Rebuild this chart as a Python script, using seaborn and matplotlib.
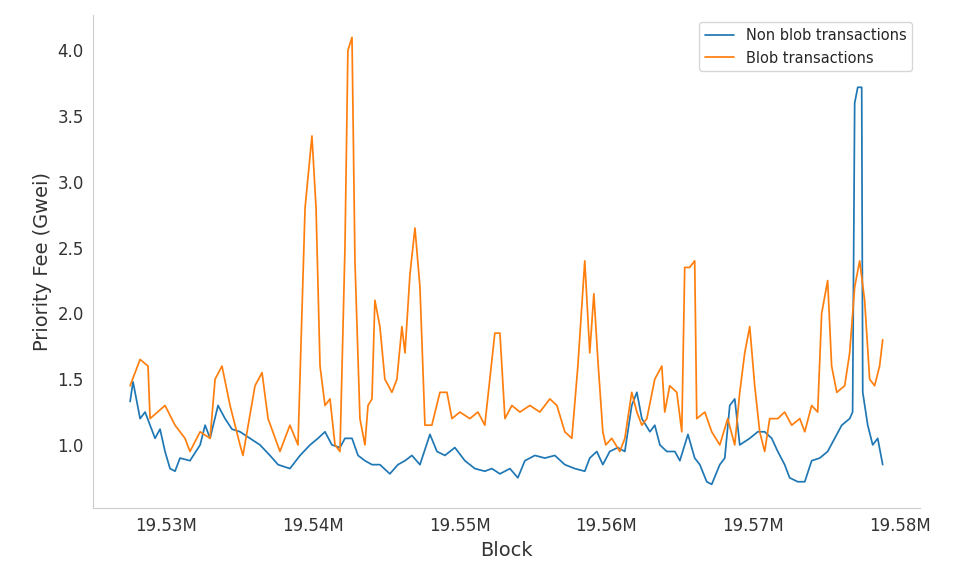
import numpy as np
import pandas as pd
import matplotlib
matplotlib.use("Agg")
import matplotlib.pyplot as plt
import matplotlib.ticker as mticker
import seaborn as sns

# block numbers in thousands, fee in Gwei
nonblob_kblock = [19527.55, 19527.75, 19528.23, 19528.57, 19528.91, 19529.25, 19529.59, 19529.93, 19530.27, 19530.61,
                  19530.95, 19531.63, 19532.32, 19532.66, 19533.00, 19533.54, 19534.02, 19534.49, 19535.04, 19535.72,
                  19536.40, 19537.08, 19537.63, 19538.44, 19539.13, 19539.81, 19540.35, 19540.83, 19541.30, 19541.85,
                  19542.19, 19542.67, 19543.08, 19543.55, 19544.03, 19544.57, 19545.25, 19545.80, 19546.28, 19546.75,
                  19547.30, 19547.98, 19548.46, 19549.00, 19549.68, 19550.36, 19551.04, 19551.72, 19552.20, 19552.75,
                  19553.43, 19553.97, 19554.45, 19555.13, 19555.81, 19556.49, 19557.17, 19557.85, 19558.53, 19558.87,
                  19559.35, 19559.76, 19560.23, 19560.78, 19561.26, 19561.73, 19562.08, 19562.42, 19562.97, 19563.30,
                  19563.65, 19564.12, 19564.67, 19565.01, 19565.56, 19566.02, 19566.37, 19566.84, 19567.18, 19567.73,
                  19568.07, 19568.41, 19568.75, 19569.09, 19569.77, 19570.32, 19570.79, 19571.27, 19571.68, 19572.15,
                  19572.49, 19573.04, 19573.52, 19573.99, 19574.54, 19575.08, 19575.56, 19576.04, 19576.58, 19576.78,
                  19576.92, 19577.13, 19577.40, 19577.47, 19577.81, 19578.15, 19578.49, 19578.83]
nonblob_fee = [1.33, 1.48, 1.20, 1.25, 1.15, 1.05, 1.12, 0.95, 0.82, 0.80,
               0.90, 0.88, 1.00, 1.15, 1.05, 1.30, 1.20, 1.12, 1.10, 1.05,
               1.00, 0.92, 0.85, 0.82, 0.92, 1.00, 1.05, 1.10, 1.00, 0.98,
               1.05, 1.05, 0.92, 0.88, 0.85, 0.85, 0.78, 0.85, 0.88, 0.92,
               0.85, 1.08, 0.95, 0.92, 0.98, 0.88, 0.82, 0.80, 0.82, 0.78,
               0.82, 0.75, 0.88, 0.92, 0.90, 0.92, 0.85, 0.82, 0.80, 0.90,
               0.95, 0.85, 0.95, 0.98, 0.95, 1.30, 1.40, 1.20, 1.10, 1.15,
               1.00, 0.95, 0.95, 0.88, 1.08, 0.90, 0.85, 0.72, 0.70, 0.85,
               0.90, 1.30, 1.35, 1.00, 1.05, 1.10, 1.10, 1.05, 0.95, 0.85,
               0.75, 0.72, 0.72, 0.88, 0.90, 0.95, 1.05, 1.15, 1.20, 1.25,
               3.60, 3.72, 3.72, 1.40, 1.15, 1.00, 1.05, 0.85]

blob_kblock = [19527.55, 19528.23, 19528.77, 19528.91, 19529.93, 19530.61, 19531.29, 19531.63, 19532.32, 19533.00,
               19533.34, 19533.81, 19534.36, 19535.04, 19535.24, 19536.06, 19536.54, 19536.95, 19537.76, 19538.44,
               19538.99, 19539.47, 19539.94, 19540.22, 19540.49, 19540.83, 19541.17, 19541.51, 19541.85, 19542.19,
               19542.39, 19542.67, 19542.87, 19543.21, 19543.55, 19543.76, 19544.03, 19544.23, 19544.57, 19544.91,
               19545.39, 19545.73, 19546.07, 19546.28, 19546.62, 19546.96, 19547.30, 19547.64, 19548.11, 19548.66,
               19549.14, 19549.48, 19550.02, 19550.70, 19551.25, 19551.72, 19552.06, 19552.40, 19552.75, 19553.09,
               19553.56, 19554.11, 19554.79, 19555.47, 19556.15, 19556.63, 19557.17, 19557.65, 19558.06, 19558.53,
               19558.87, 19559.15, 19559.42, 19559.76, 19559.96, 19560.37, 19560.92, 19561.26, 19561.73, 19562.08,
               19562.42, 19562.76, 19563.30, 19563.78, 19563.98, 19564.32, 19564.80, 19565.14, 19565.34, 19565.68,
               19566.02, 19566.16, 19566.71, 19567.18, 19567.73, 19568.27, 19568.75, 19569.09, 19569.43, 19569.77,
               19570.11, 19570.45, 19570.79, 19571.13, 19571.68, 19572.15, 19572.63, 19573.18, 19573.52, 19573.99,
               19574.40, 19574.67, 19575.08, 19575.35, 19575.70, 19576.24, 19576.58, 19576.92, 19577.26, 19577.60,
               19577.94, 19578.28, 19578.62, 19578.83]
blob_fee = [1.45, 1.65, 1.60, 1.20, 1.30, 1.15, 1.05, 0.95, 1.10, 1.05,
            1.50, 1.60, 1.30, 1.00, 0.92, 1.45, 1.55, 1.20, 0.95, 1.15,
            1.00, 2.80, 3.35, 2.80, 1.60, 1.30, 1.35, 1.00, 0.95, 2.50,
            4.00, 4.10, 2.40, 1.20, 1.00, 1.30, 1.35, 2.10, 1.90, 1.50,
            1.40, 1.50, 1.90, 1.70, 2.30, 2.65, 2.20, 1.15, 1.15, 1.40,
            1.40, 1.20, 1.25, 1.20, 1.25, 1.15, 1.50, 1.85, 1.85, 1.20,
            1.30, 1.25, 1.30, 1.25, 1.35, 1.30, 1.10, 1.05, 1.60, 2.40,
            1.70, 2.15, 1.65, 1.10, 1.00, 1.05, 0.95, 1.05, 1.40, 1.25,
            1.15, 1.20, 1.50, 1.60, 1.25, 1.45, 1.40, 1.10, 2.35, 2.35,
            2.40, 1.20, 1.25, 1.10, 1.00, 1.20, 1.00, 1.40, 1.70, 1.90,
            1.45, 1.10, 0.95, 1.20, 1.20, 1.25, 1.15, 1.20, 1.10, 1.30,
            1.25, 2.00, 2.25, 1.60, 1.40, 1.45, 1.70, 2.20, 2.40, 2.10,
            1.50, 1.45, 1.60, 1.80]

df = pd.concat([
    pd.DataFrame({'block': np.array(nonblob_kblock) * 1000, 'fee': nonblob_fee, 'type': 'Non blob transactions'}),
    pd.DataFrame({'block': np.array(blob_kblock) * 1000, 'fee': blob_fee, 'type': 'Blob transactions'}),
])

sns.set_style('white')
fig = plt.figure(figsize=(10, 6), dpi=96)
ax = fig.add_axes([0.097, 0.118, 0.861, 0.856])
sns.lineplot(data=df, x='block', y='fee', hue='type', palette=['#1f77b4', '#ff7f0e'],
             linewidth=1.3, ax=ax, estimator=None)

ax.set_xlim(19525030, 19581350)
ax.set_ylim(0.52, 4.27)
ax.set_xticks([19530000, 19540000, 19550000, 19560000, 19570000, 19580000])
ax.xaxis.set_major_formatter(mticker.FuncFormatter(lambda v, p: f'{v / 1e6:.2f}M'))
ax.set_yticks([1.0, 1.5, 2.0, 2.5, 3.0, 3.5, 4.0])
ax.yaxis.set_major_formatter(mticker.FormatStrFormatter('%.1f'))
ax.tick_params(labelsize=12.5, colors='#333333')
ax.set_xlabel('Block', fontsize=14.5, color='#333333')
ax.set_ylabel('Priority Fee (Gwei)', fontsize=14.5, color='#333333')
sns.despine(ax=ax)
for s in ['left', 'bottom']:
    ax.spines[s].set_color('#cccccc')
ax.legend(loc='upper right', fontsize=11, frameon=True)

fig.savefig('out.png', dpi=96)
